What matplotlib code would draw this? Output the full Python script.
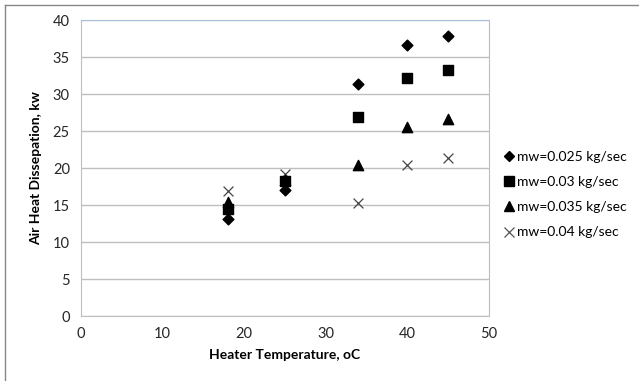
import matplotlib.pyplot as plt
from matplotlib.lines import Line2D

temps = [18, 25, 34, 40, 45]
mw_025 = [13.1, 17.0, 31.4, 36.6, 37.9]
mw_030 = [14.4, 18.3, 26.9, 32.1, 33.3]
mw_035 = [15.4, 18.4, 20.4, 25.6, 26.6]
mw_040 = [16.9, 19.2, 15.3, 20.4, 21.3]
labels = ["mw=0.025 kg/sec", "mw=0.03 kg/sec", "mw=0.035 kg/sec", "mw=0.04 kg/sec"]

plt.rcParams['font.family'] = ['Lato', 'DejaVu Sans']

fig = plt.figure(figsize=(6.39, 3.81), dpi=100)
ax = fig.add_axes([0.1268, 0.1706, 0.6385, 0.7769])

ax.scatter(temps, mw_040, marker='x', s=50, c='#444444', linewidths=0.9, label=labels[3], zorder=3)
ax.scatter(temps, mw_035, marker='^', s=55, c='black', label=labels[2], zorder=4)
ax.scatter(temps, mw_030, marker='s', s=55, c='black', label=labels[1], zorder=5)
ax.scatter(temps, mw_025, marker='D', s=30, c='black', label=labels[0], zorder=6)

ax.set_xlim(0, 50)
ax.set_ylim(0, 40)
ax.set_xticks(range(0, 51, 10))
ax.set_yticks(range(0, 41, 5))
ax.yaxis.grid(True, color='#bfbfbf', linewidth=1.0)
ax.set_axisbelow(True)
ax.tick_params(length=0, labelsize=10.5, colors='#262626', pad=8)
for s in ['top', 'right']:
    ax.spines[s].set_color('#a8c0dd')
for s in ['bottom', 'left']:
    ax.spines[s].set_color('#bfbfbf')

ax.set_xlabel("Heater Temperature, oC", fontsize=10, fontweight='bold', labelpad=6)
ax.set_ylabel("Air Heat Dissepation, kw", fontsize=10, fontweight='bold', labelpad=8)

handles = [Line2D([], [], ls='none', marker='D', ms=5, color='black'),
           Line2D([], [], ls='none', marker='s', ms=7, color='black'),
           Line2D([], [], ls='none', marker='^', ms=7, color='black'),
           Line2D([], [], ls='none', marker='x', ms=7, color='#555555', mew=0.9)]
fig.legend(handles, labels, loc='center left', bbox_to_anchor=(0.77, 0.489),
           frameon=False, fontsize=10, handlelength=0.6, handletextpad=0.3,
           labelspacing=0.95)

# outer chart border
fig.add_artist(Line2D([0.008, 0.008], [0, 0.987], transform=fig.transFigure, color='#888888', lw=1))
fig.add_artist(Line2D([0.008, 1], [0.987, 0.987], transform=fig.transFigure, color='#888888', lw=1))

fig.savefig("out.png", dpi=100)
